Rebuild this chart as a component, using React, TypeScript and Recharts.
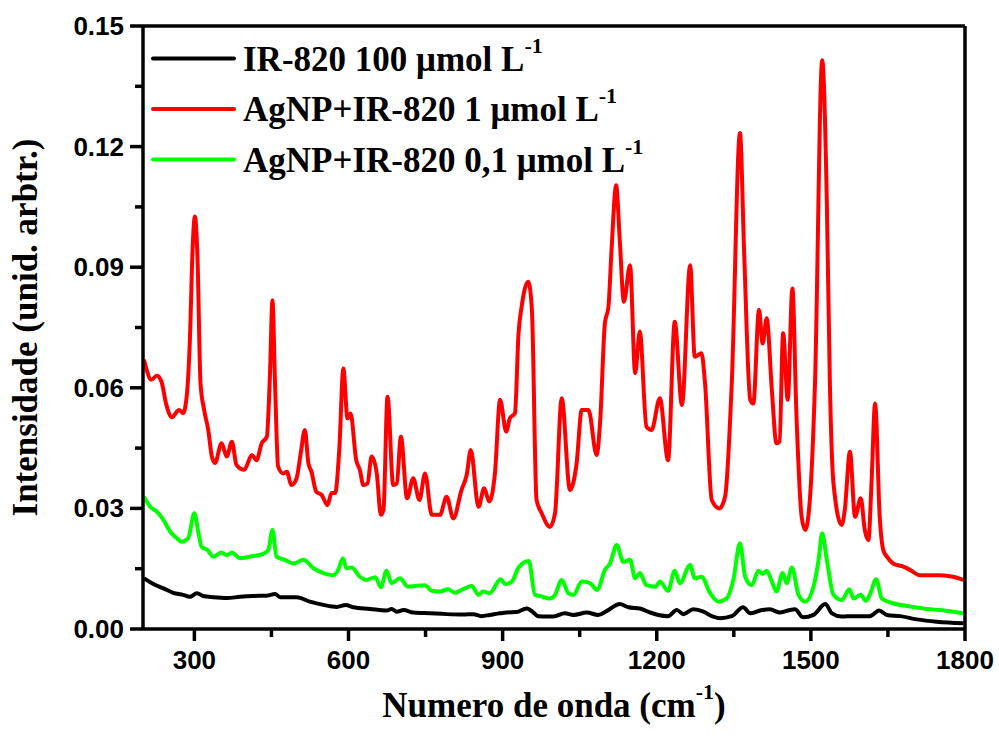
import React from 'react';
import { LineChart, Line, XAxis, YAxis, Legend, Label } from 'recharts';

// Raman/SERS spectra: [wavenumber (cm-1), intensity (arb. units)]
const ir820Free: number[][] = [
  [202, 0.0126], [220, 0.0112], [240, 0.0101], [259, 0.009], [278, 0.0085], [291, 0.008],
  [305, 0.0089], [317, 0.0082], [337, 0.0079], [363, 0.0077], [389, 0.008], [415, 0.0082],
  [441, 0.0083], [457, 0.0087], [467, 0.0079], [499, 0.0079], [525, 0.0068], [551, 0.006],
  [577, 0.0055], [595, 0.006], [609, 0.0054], [642, 0.005], [674, 0.0046], [684, 0.005],
  [694, 0.0043], [707, 0.0047], [726, 0.0041], [759, 0.0039], [791, 0.0037], [823, 0.0036],
  [843, 0.0037], [859, 0.0032], [875, 0.0035], [895, 0.0039], [908, 0.0041], [927, 0.0042],
  [947, 0.0051], [960, 0.0041], [969, 0.0032], [989, 0.0031], [999, 0.0031], [1021, 0.0039],
  [1038, 0.0035], [1064, 0.0041], [1086, 0.0035], [1103, 0.0045], [1128, 0.0062], [1145, 0.0054],
  [1167, 0.0051], [1187, 0.0041], [1203, 0.0035], [1222, 0.0032], [1239, 0.0047], [1252, 0.0037],
  [1271, 0.0049], [1291, 0.0043], [1307, 0.0032], [1323, 0.0027], [1346, 0.0032], [1368, 0.0054],
  [1382, 0.0039], [1401, 0.0046], [1420, 0.0049], [1439, 0.0041], [1456, 0.0046], [1469, 0.0049],
  [1485, 0.0029], [1505, 0.0035], [1528, 0.0062], [1541, 0.0039], [1560, 0.0031], [1583, 0.0032],
  [1615, 0.0032], [1633, 0.0046], [1648, 0.0035], [1674, 0.0032], [1706, 0.0024], [1745, 0.0018],
  [1797, 0.0014],
];

const agnp1uM: number[][] = [
  [202, 0.067], [206, 0.065], [216, 0.062], [227, 0.063], [236, 0.0615], [245, 0.056],
  [256, 0.0527], [270, 0.0545], [278, 0.0537], [285, 0.0578], [291, 0.071], [297, 0.096],
  [301, 0.1026], [306, 0.0926], [312, 0.061], [319, 0.0545], [327, 0.0495], [334, 0.0429],
  [340, 0.0413], [353, 0.0462], [363, 0.0429], [373, 0.0466], [382, 0.0408], [397, 0.0396],
  [412, 0.0433], [421, 0.042], [431, 0.0462], [441, 0.0478], [447, 0.0628], [452, 0.0818],
  [457, 0.061], [463, 0.0404], [473, 0.0387], [480, 0.0391], [489, 0.0358], [499, 0.0375],
  [507, 0.0437], [515, 0.0495], [522, 0.0412], [528, 0.0391], [537, 0.0342], [548, 0.0333],
  [559, 0.0308], [567, 0.0338], [574, 0.0338], [582, 0.0445], [590, 0.0648], [598, 0.0524],
  [604, 0.0536], [615, 0.042], [622, 0.0396], [629, 0.0358], [637, 0.0362], [645, 0.0429],
  [655, 0.0387], [663, 0.0284], [668, 0.0296], [676, 0.0578], [687, 0.0358], [694, 0.0362],
  [702, 0.0478], [714, 0.0325], [726, 0.0375], [738, 0.0321], [749, 0.0387], [762, 0.0284],
  [778, 0.0284], [791, 0.0329], [804, 0.0275], [820, 0.0346], [830, 0.0383], [838, 0.0445],
  [853, 0.0304], [864, 0.035], [874, 0.0317], [885, 0.0387], [895, 0.057], [907, 0.0491],
  [914, 0.0524], [924, 0.0537], [931, 0.0736], [937, 0.0802], [950, 0.0864], [957, 0.0794],
  [966, 0.0321], [976, 0.0288], [992, 0.0254], [1002, 0.0288], [1015, 0.0574], [1031, 0.0346],
  [1044, 0.0412], [1054, 0.0545], [1067, 0.0545], [1083, 0.0433], [1090, 0.052], [1099, 0.076],
  [1106, 0.0802], [1112, 0.0943], [1121, 0.1104], [1128, 0.0968], [1136, 0.0814], [1148, 0.0905],
  [1158, 0.0636], [1167, 0.074], [1180, 0.0503], [1190, 0.0495], [1206, 0.0574], [1222, 0.042],
  [1235, 0.0764], [1249, 0.0557], [1265, 0.0905], [1274, 0.0677], [1287, 0.0686], [1294, 0.0611],
  [1307, 0.0321], [1322, 0.03], [1333, 0.0329], [1346, 0.0611], [1362, 0.1234], [1370, 0.094],
  [1382, 0.057], [1388, 0.0561], [1399, 0.0794], [1406, 0.071], [1414, 0.0773], [1424, 0.0595],
  [1433, 0.0462], [1439, 0.0466], [1446, 0.0736], [1455, 0.057], [1464, 0.0847], [1472, 0.0528],
  [1482, 0.0279], [1489, 0.0246], [1498, 0.0321], [1508, 0.0611], [1522, 0.1415], [1531, 0.1067],
  [1537, 0.061], [1544, 0.0362], [1560, 0.0259], [1566, 0.0296], [1576, 0.0441], [1586, 0.0279],
  [1597, 0.0325], [1605, 0.0246], [1612, 0.0221], [1618, 0.0362], [1625, 0.0561], [1634, 0.0279],
  [1641, 0.0196], [1648, 0.018], [1660, 0.0163], [1680, 0.0155], [1693, 0.0147], [1712, 0.0134],
  [1751, 0.0134], [1777, 0.013], [1797, 0.0122],
];

const agnp01uM: number[][] = [
  [202, 0.0329], [214, 0.0304], [227, 0.0292], [240, 0.0271], [253, 0.0242], [266, 0.0226],
  [275, 0.0217], [288, 0.0226], [300, 0.0288], [308, 0.0238], [314, 0.0205], [325, 0.0197],
  [337, 0.018], [353, 0.019], [363, 0.0184], [373, 0.019], [389, 0.0176], [408, 0.018],
  [434, 0.0187], [444, 0.0197], [452, 0.0246], [460, 0.018], [476, 0.0172], [493, 0.0163],
  [512, 0.0172], [532, 0.0151], [551, 0.0139], [570, 0.0134], [580, 0.0147], [589, 0.0176],
  [596, 0.0151], [606, 0.0153], [622, 0.013], [635, 0.0122], [652, 0.0129], [663, 0.0104],
  [674, 0.0145], [684, 0.0114], [700, 0.0126], [716, 0.0105], [729, 0.0107], [749, 0.0109],
  [762, 0.0095], [778, 0.0093], [794, 0.0099], [807, 0.009], [823, 0.0099], [840, 0.0107],
  [853, 0.0085], [862, 0.0093], [875, 0.0089], [896, 0.0124], [905, 0.0112], [918, 0.0118],
  [931, 0.0153], [951, 0.0169], [963, 0.0085], [973, 0.0082], [992, 0.0076], [1002, 0.0085],
  [1015, 0.0122], [1028, 0.0089], [1038, 0.0085], [1054, 0.0118], [1070, 0.0114], [1084, 0.0097],
  [1099, 0.0147], [1109, 0.0163], [1122, 0.0209], [1135, 0.0167], [1148, 0.0172], [1158, 0.0126],
  [1167, 0.0139], [1180, 0.0109], [1197, 0.0105], [1206, 0.0118], [1222, 0.0095], [1235, 0.0145],
  [1245, 0.0114], [1265, 0.0159], [1274, 0.0126], [1287, 0.013], [1304, 0.0089], [1320, 0.0068],
  [1336, 0.0076], [1349, 0.0122], [1362, 0.0213], [1372, 0.013], [1385, 0.0109], [1398, 0.0145],
  [1406, 0.0137], [1414, 0.0145], [1424, 0.0118], [1433, 0.0093], [1445, 0.0139], [1453, 0.0114],
  [1463, 0.0153], [1476, 0.0085], [1489, 0.0068], [1505, 0.0105], [1515, 0.0172], [1522, 0.0238],
  [1531, 0.0172], [1544, 0.0085], [1560, 0.0072], [1575, 0.0099], [1583, 0.0076], [1597, 0.0085],
  [1607, 0.007], [1616, 0.0089], [1627, 0.0124], [1638, 0.0076], [1660, 0.0064], [1687, 0.0057],
  [1719, 0.0051], [1751, 0.0047], [1797, 0.0039],
];

const seriesNames = ['IR-820 100 μmol L', 'AgNP+IR-820 1 μmol L', 'AgNP+IR-820 0,1 μmol L'];
const seriesColors = ['#000000', '#ff0000', '#00ff00'];

const xTicks = [300, 450, 600, 750, 900, 1050, 1200, 1350, 1500, 1650, 1800];
const xLabelTicks = [300, 600, 900, 1200, 1500, 1800];
const yTicks = [0, 0.015, 0.03, 0.045, 0.06, 0.075, 0.09, 0.105, 0.12, 0.135, 0.15];
const yLabelTicks = [0, 0.03, 0.06, 0.09, 0.12, 0.15];

const toPoints = (pairs: number[][]) => pairs.map(([x, y]) => ({ x, y }));

const serif = '"Liberation Serif", "Times New Roman", serif';
const sans = '"Liberation Sans", Arial, sans-serif';
const axisLine = { stroke: '#000', strokeWidth: 3.5 };
const frameTick = { stroke: '#000', strokeWidth: 2 };

const isYLabel = (v: number) => yLabelTicks.some((t) => Math.abs(t - v) < 1e-9);

// tick stubs are drawn here so labelled and unlabelled ticks can differ in length
const BottomTick = (props: any) => {
  const { x, y, payload } = props;
  const major = xLabelTicks.includes(payload.value);
  return (
    <g>
      <line x1={x} y1={y} x2={x} y2={y + (major ? 12 : 8)} stroke="#000" strokeWidth={3.5} />
      {major && (
        <text x={x} y={y + 40} textAnchor="middle" fontFamily={sans} fontWeight="bold" fontSize={26} fill="#000">
          {payload.value}
        </text>
      )}
    </g>
  );
};

const LeftTick = (props: any) => {
  const { x, y, payload } = props;
  const major = isYLabel(payload.value);
  return (
    <g>
      <line x1={x} y1={y} x2={x - (major ? 13 : 8)} y2={y} stroke="#000" strokeWidth={3.5} />
      {major && (
        <text x={x - 19} y={y + 9} textAnchor="end" fontFamily={sans} fontWeight="bold" fontSize={26} fill="#000">
          {payload.value.toFixed(2)}
        </text>
      )}
    </g>
  );
};

const SpectraLegend = () => (
  <svg width={999} height={200} style={{ display: 'block' }}>
    {seriesNames.map((name, i) => {
      const base = 70.5 + i * 50.5;
      return (
        <g key={name}>
          <line x1={153} y1={base - 12} x2={234} y2={base - 12} stroke={seriesColors[i]} strokeWidth={4} strokeLinecap="round" />
          <text x={243} y={base} fontFamily={serif} fontWeight="bold" fontSize={35} fill="#000">
            {name}
            <tspan fontSize={22} dy={-18}>-1</tspan>
          </text>
        </g>
      );
    })}
  </svg>
);

export default function App() {
  return (
    <div style={{ position: 'absolute', left: 0, top: 0, width: 999, height: 738, background: '#fff' }}>
      <LineChart width={999} height={738} margin={{ top: 26, right: 34, bottom: 0, left: 43 }}>
        <XAxis
          dataKey="x"
          type="number"
          domain={[200, 1800]}
          ticks={xTicks}
          allowDataOverflow
          height={109}
          axisLine={axisLine}
          tickLine={false}
          tickSize={0}
          tickMargin={0}
          tick={<BottomTick />}
          interval={0}
        >
          <Label
            content={(p: any) => {
              const vb = p.viewBox;
              return (
                <text x={vb.x + vb.width / 2} y={vb.y + 88} textAnchor="middle" fontFamily={serif} fontWeight="bold" fontSize={35} fill="#000">
                  Numero de onda (cm<tspan fontSize={22} dy={-18}>-1</tspan><tspan dy={18}>)</tspan>
                </text>
              );
            }}
          />
        </XAxis>
        {/* mirrored frame axes: no space taken, small inward ticks */}
        <XAxis
          xAxisId="top"
          orientation="top"
          mirror
          type="number"
          domain={[200, 1800]}
          ticks={xTicks.slice(0, -1)}
          allowDataOverflow
          height={30}
          axisLine={axisLine}
          tickLine={frameTick}
          tickSize={4}
          tick={false}
          interval={0}
        />
        <YAxis
          type="number"
          domain={[0, 0.15]}
          ticks={yTicks}
          allowDataOverflow
          width={100}
          axisLine={axisLine}
          tickLine={false}
          tickSize={0}
          tickMargin={0}
          tick={<LeftTick />}
          interval={0}
        >
          <Label
            content={(p: any) => {
              const vb = p.viewBox;
              const cx = vb.x - 6;
              const cy = vb.y + vb.height / 2;
              return (
                <text x={cx} y={cy} transform={`rotate(-90 ${cx} ${cy})`} textAnchor="middle" fontFamily={serif} fontWeight="bold" fontSize={35} fill="#000">
                  Intensidade (unid. arbtr.)
                </text>
              );
            }}
          />
        </YAxis>
        <YAxis
          yAxisId="right"
          orientation="right"
          mirror
          type="number"
          domain={[0, 0.15]}
          ticks={yTicks.slice(1, -1)}
          allowDataOverflow
          width={30}
          axisLine={axisLine}
          tickLine={frameTick}
          tickSize={4}
          tick={false}
          interval={0}
        />
        <Legend
          layout="vertical"
          align="center"
          verticalAlign="middle"
          wrapperStyle={{ position: 'absolute', left: 0, top: 0, width: 999, height: 200 }}
          content={() => <SpectraLegend />}
        />
        <Line data={toPoints(ir820Free)} dataKey="y" name={seriesNames[0]} type="monotone" stroke={seriesColors[0]} strokeWidth={4} dot={false} isAnimationActive={false} />
        <Line data={toPoints(agnp1uM)} dataKey="y" name={seriesNames[1]} type="monotone" stroke={seriesColors[1]} strokeWidth={4} dot={false} isAnimationActive={false} />
        <Line data={toPoints(agnp01uM)} dataKey="y" name={seriesNames[2]} type="monotone" stroke={seriesColors[2]} strokeWidth={4} dot={false} isAnimationActive={false} />
      </LineChart>
    </div>
  );
}
